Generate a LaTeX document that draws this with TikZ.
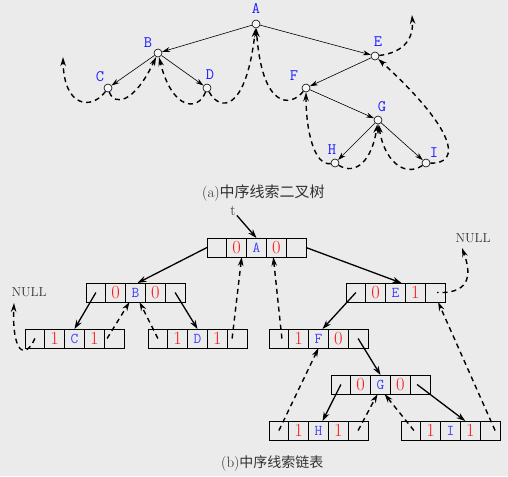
\documentclass[tikz,border=0pt]{standalone}
\usepackage{fontspec}
\newfontfamily\cjk{Noto Sans CJK SC}
\usetikzlibrary{arrows.meta}
\definecolor{bg}{HTML}{EBEBEB}
\definecolor{blueA}{HTML}{1E1EFF}
\definecolor{blueL}{HTML}{4040FF}
\definecolor{redD}{HTML}{FF1A1A}
\definecolor{capgray}{HTML}{303030}
\tikzset{
  tn/.style={circle,draw,fill=white!50!bg,minimum size=8pt,inner sep=0pt,line width=0.6pt},
  tl/.style={text=blueA,font=\fontsize{16}{16}\selectfont\ttfamily,inner sep=0pt},
  sol/.style={-{Stealth[length=8pt,width=5pt]},line width=0.6pt},
  thr/.style={dash pattern=on 5pt off 4pt,line width=1.4pt,-{Stealth[length=9pt,width=5.5pt]}},
  bsol/.style={-{Stealth[length=9pt,width=6pt]},line width=1.3pt},
  cell/.style={draw,minimum width=19.8pt,minimum height=19pt,inner sep=0pt,outer sep=0pt,line width=0.8pt},
  bitf/.style={text=redD,font=\fontsize{18.5}{18.5}\selectfont},
  letf/.style={text=blueL,font=\fontsize{15}{15}\selectfont\ttfamily},
  nulltxt/.style={text=capgray,font=\fontsize{13}{13}\selectfont,inner sep=0pt},
  captxt/.style={text=capgray,inner sep=0pt}
}
\newcommand\cellrow[6]{%
  \node[cell,anchor=north west] (#11) at (#2,#3) {};
  \node[cell,anchor=west,bitf] (#12) at (#11.east) {#4};
  \node[cell,anchor=west,letf] (#13) at (#12.east) {#5};
  \node[cell,anchor=west,bitf] (#14) at (#13.east) {#6};
  \node[cell,anchor=west] (#15) at (#14.east) {};
}
\begin{document}
\begin{tikzpicture}[x=1pt,y=-1pt]
\fill[bg] (0,0) rectangle (508,476);
\useasboundingbox (0,0) rectangle (508,476);

% ---------- (a) tree ----------
\node[tn] (nA) at (256,24) {};
\node[tn] (nB) at (158,53) {};
\node[tn] (nC) at (108,88) {};
\node[tn] (nD) at (207,88) {};
\node[tn] (nE) at (375,56) {};
\node[tn] (nF) at (306,88) {};
\node[tn] (nG) at (378,120) {};
\node[tn] (nH) at (335,163) {};
\node[tn] (nI) at (426,163) {};

\node[tl] (lA) at (256,9) {A};
\node[tl] (lB) at (148,43) {B};
\node[tl] (lC) at (100,77) {C};
\node[tl] (lD) at (210,75) {D};
\node[tl] (lE) at (378,42) {E};
\node[tl] (lF) at (294,76) {F};
\node[tl] (lG) at (382,107) {G};
\node[tl] (lH) at (332,150) {H};
\node[tl] (lI) at (434,153) {I};

\draw[sol] (nA) -- (nB);
\draw[sol] (nA) -- (nE);
\draw[sol] (nB) -- (nC);
\draw[sol] (nB) -- (nD);
\draw[sol] (nE) -- (nF);
\draw[sol] (nF) -- (nG);
\draw[sol] (nG) -- (nH);
\draw[sol] (nG) -- (nI);

\coordinate (fa1) at (63,57);
\coordinate (fa2) at (412,15);
\draw[thr] (nC) .. controls (92,110) and (64,108) .. (fa1);
\draw[thr] (nC) .. controls (114,106) and (134,104) .. (nB);
\draw[thr] (nD) .. controls (198,112) and (172,110) .. (nB);
\draw[thr] (nD) .. controls (220,112) and (246,112) .. (nA);
\draw[thr] (nF) .. controls (290,108) and (262,108) .. (nA);
\draw[thr] (nH) .. controls (314,166) and (306,130) .. (nF);
\draw[thr] (nH) .. controls (356,176) and (372,160) .. (nG);
\draw[thr] (nI) .. controls (404,178) and (384,160) .. (nG);
\draw[thr] (nI) .. controls (462,164) and (456,130) .. (nE);
\draw[thr] (nE) .. controls (400,53) and (414,42) .. (fa2);

\node[captxt,anchor=west] (capa) at (202,193) {\fontsize{15}{15}\selectfont(a)\cjk\fontsize{15}{15}\selectfont 中序线索二叉树};

% ---------- (b) linked list ----------
\cellrow{A}{207}{238}{0}{A}{0}
\cellrow{B}{86}{283}{0}{B}{0}
\cellrow{E}{346}{283}{0}{E}{1}
\cellrow{C}{25}{329}{1}{C}{1}
\cellrow{D}{148}{329}{1}{D}{1}
\cellrow{F}{269}{329}{1}{F}{0}
\cellrow{G}{331}{375}{0}{G}{0}
\cellrow{H}{269}{421}{1}{H}{1}
\cellrow{I}{401}{421}{1}{I}{1}

\node[text=capgray,font=\fontsize{15}{15}\selectfont,inner sep=1pt] (tt) at (233,211) {t};
\node[nulltxt] (null1) at (29,292) {NULL};
\node[nulltxt] (null2) at (473,238) {NULL};

\draw[bsol] (tt) -- (A3.north);
\draw[bsol] (A1.west) -- ([xshift=2pt]B3.north);
\draw[bsol] (A5.east) -- ([xshift=6pt]E3.north);
\draw[bsol] (B1.center) -- (C3.north);
\draw[bsol] (B5.center) -- (D3.north);
\draw[bsol] (E1.center) -- ([xshift=4pt]F3.north);
\draw[bsol] (F5.center) -- (G3.north);
\draw[bsol] (G1.center) -- ([xshift=4pt]H3.north);
\draw[bsol] ([xshift=-3pt]G5.center) -- ([xshift=-5pt]I4.north);

\coordinate (fb1) at (14,303);
\coordinate (fb2) at (462,248);
\draw[thr] (C1.center) .. controls (24,362) and (12,350) .. (fb1);
\draw[thr] ([xshift=-7pt]C5.center) -- ([xshift=-6pt]B3.south);
\draw[thr] (D1.center) -- ([xshift=4pt]B3.south);
\draw[thr] ([xshift=-5pt]D5.center) -- ([xshift=5pt]A2.south);
\draw[thr] ([xshift=3pt]F1.center) -- ([xshift=-3pt]A4.south);
\draw[thr,dash phase=3.6pt] ([xshift=2pt]E5.center) .. controls (474,294) and (470,270) .. (fb2);
\draw[thr] ([xshift=5pt]I5.center) -- ([xshift=3pt]E5.south);
\draw[thr] (H1.center) -- (F3.south);
\draw[thr] (H5.center) -- ([xshift=-3pt]G3.south);
\draw[thr] ([xshift=3pt]I1.center) -- ([xshift=4pt]G3.south);

\node[captxt,anchor=west] (capb) at (221,463) {\fontsize{15}{15}\selectfont(b)\cjk\fontsize{14}{14}\selectfont 中序线索链表};
\end{tikzpicture}
\end{document}
